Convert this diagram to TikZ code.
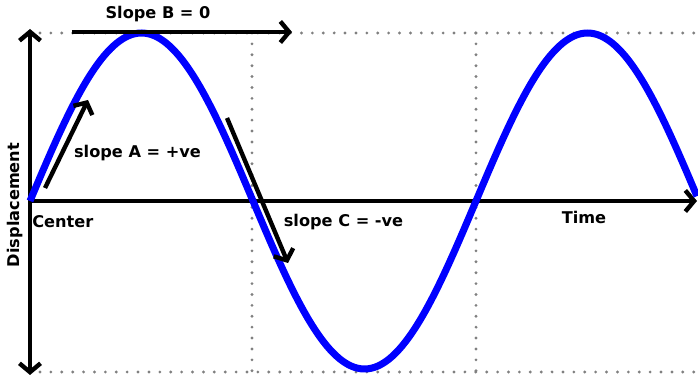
\documentclass[tikz,border=0pt]{standalone}
\usepackage{fontspec}
\setmainfont{DejaVu Sans}
\usepackage{tikz}
\usetikzlibrary{arrows.meta}

\begin{document}
\begin{tikzpicture}
  \useasboundingbox (-0.6,-3.52) rectangle (13.36,4.02);
  \tikzset{axisline/.style={line width=2.5pt,black},
           barb/.style={-{Straight Barb[length=5pt,width=12pt,line width=2.5pt]}},
           gridline/.style={gray,line width=1.8pt,line cap=round,dash pattern=on 0pt off 6.2pt},
           wave/.style={blue,line width=4pt},
           lbl/.style={font=\bfseries\fontsize{9.2}{10}\selectfont,inner sep=0pt}}

 % dotted guide lines
  \draw[gridline] (0.2, 3.36) -- (13.36, 3.36);
  \draw[gridline] (0.2, -3.42) -- (13.36, -3.42);
  \draw[gridline] (4.44, 3.36) -- (4.44, -3.42);
  \draw[gridline] (8.92, 3.36) -- (8.92, -3.42);

 % axis
  \coordinate (ytop) at (0, 3.44);
  \coordinate (ybot) at (0, -3.48);
  \coordinate (orig) at (0, 0);
  \coordinate (xend) at (13.34, 0);
  \draw[axisline, {Straight Barb[length=5pt,width=12pt,line width=2.5pt]}-{Straight Barb[length=5pt,width=12pt,line width=2.5pt]}] (ybot) -- (ytop);
  \draw[axisline, barb] (orig) -- (xend);

 % the wave
  \draw[wave, domain=0:13.34, samples=150, smooth] plot (\x, {3.36*sin(180*\x/4.46)});

 % slope arrows
  \coordinate (a0) at (0.30, 0.26);
  \coordinate (a1) at (1.16, 2.02);
  \coordinate (b0) at (0.84, 3.38);
  \coordinate (b1) at (5.24, 3.38);
  \coordinate (c0) at (3.94, 1.66);
  \coordinate (c1) at (5.16, -1.24);
  \draw[axisline, barb] (a0) -- (a1);
  \draw[axisline, barb] (b0) -- (b1);
  \draw[axisline, barb] (c0) -- (c1);

 % labels
  \node[lbl] (slopeb) at (2.56, 3.74) {Slope B = 0};
  \node[lbl] (slopea) at (2.15, 0.96) {slope A = +ve};
  \node[lbl, anchor=west] (center) at (0.04, -0.42) {Center};
  \node[lbl] (slopec) at (6.27, -0.42) {slope C = -ve};
  \node[lbl] (time) at (11.08, -0.32) {Time};
  \node[lbl, rotate=90] (displ) at (-0.3, -0.08) {Displacement};
\end{tikzpicture}
\end{document}
